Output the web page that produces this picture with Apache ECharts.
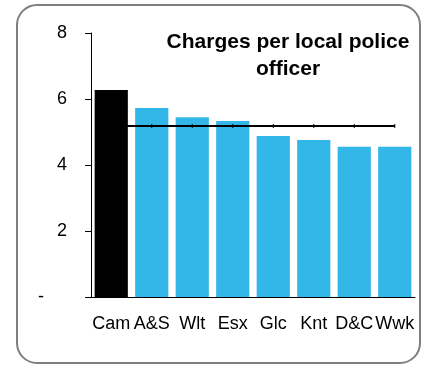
<!DOCTYPE html>
<html><head><meta charset="utf-8">
<script src="https://cdn.jsdelivr.net/npm/echarts@6/dist/echarts.min.js"></script>
<style>html,body{margin:0;padding:0;background:#fff}#c{width:425px;height:368px}</style>
</head><body><div id="c"></div>
<script>
var categories = ['Cam','A&S','Wlt','Esx','Glc','Knt','D&C','Wwk'];
var values = [6.27, 5.73, 5.45, 5.33, 4.88, 4.76, 4.55, 4.55];
var averageValue = 5.18;
var averageLine = categories.map(function(){ return averageValue; });
var yTicks = [0, 2, 4, 6, 8];
var titleText = 'Charges per local police\nofficer';

var FONT = "Arial, 'Liberation Sans', sans-serif";
var chart = echarts.init(document.getElementById('c'), null, {renderer:'canvas'});
chart.setOption({
  animation: false,
  backgroundColor: '#fff',
  title: {
    text: titleText, left: 288, top: 29, textAlign: 'center', padding: 0,
    textStyle: {fontFamily: FONT, fontSize: 21, fontWeight: 'bold', color: '#000', lineHeight: 27}
  },
  graphic: [{
    type: 'rect', z: 100, silent: true,
    shape: {x: 17, y: 5, width: 403, height: 358, r: 20},
    style: {fill: 'none', stroke: '#7f7f7f', lineWidth: 2}
  }],
  grid: {left: 91, right: 10, top: 33, bottom: 71, containLabel: false},
  xAxis: {
    type: 'category', data: categories,
    axisLine: {show: true, lineStyle: {color: '#000', width: 1}},
    axisTick: {show: false},
    axisLabel: {margin: 18, interval: 0, fontFamily: FONT, fontSize: 18, color: '#000'}
  },
  yAxis: {
    type: 'value', min: yTicks[0], max: yTicks[yTicks.length-1], interval: 2,
    splitLine: {show: false},
    axisLine: {show: true, lineStyle: {color: '#000', width: 1}},
    axisTick: {show: true, length: 6, lineStyle: {color: '#000'}},
    axisLabel: {
      margin: 24, fontFamily: FONT, fontSize: 18, color: '#000',
      formatter: function(v){ return v === 0 ? '{d|-}' : String(v); },
      rich: {d: {fontFamily: FONT, fontSize: 18, color: '#000', padding: [0, 23, 0, 0]}}
    }
  },
  series: [{
    type: 'bar', data: values.map(function(v, i){
      return {value: v, itemStyle: {color: i === 0 ? '#000000' : '#33b7e8'}};
    }),
    barCategoryGap: '18%', z: 2
  }, {
    type: 'line', data: averageLine, z: 3,
    lineStyle: {color: '#000', width: 2},
    symbol: 'rect', symbolSize: [1, 4],
    itemStyle: {color: '#000'}
  }]
});
</script></body></html>
